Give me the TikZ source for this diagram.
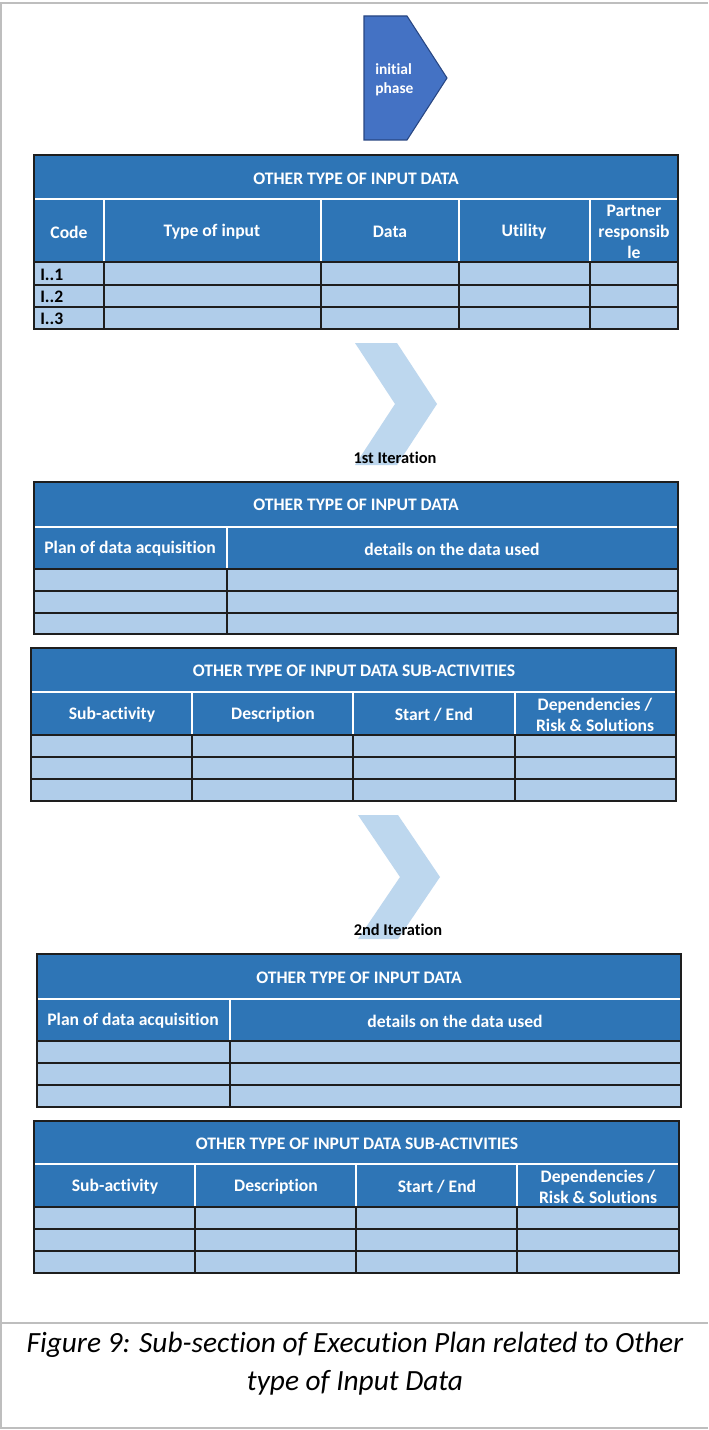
\documentclass[tikz,border=0pt]{standalone}
\usepackage{fontspec}
\setmainfont{Carlito}[Ligatures=NoCommon]
\definecolor{hdr}{RGB}{46,117,182}
\definecolor{lt}{RGB}{176,205,234}
\definecolor{chev}{RGB}{189,215,238}
\definecolor{pent}{RGB}{68,114,196}
\definecolor{pentb}{RGB}{40,70,130}
\definecolor{frm}{RGB}{190,190,190}
\definecolor{dk}{RGB}{30,30,30}
\begin{document}
\begin{tikzpicture}[x=0.75pt,y=-0.75pt,
  frameline/.style={draw=frm,line width=1.2pt},
  hfill/.style={fill=hdr},
  lfill/.style={fill=lt},
  wl/.style={draw=white,line width=1.1pt},
  dl/.style={draw=dk,line width=0.8pt},
  htext/.style={text=white,font=\bfseries\fontsize{13.2}{15.75}\selectfont,align=center,inner sep=0pt},
  dtext/.style={text=black,font=\bfseries\fontsize{13.2}{15.75}\selectfont,inner sep=0pt,anchor=west},
  itlabel/.style={text=black,font=\bfseries\fontsize{12.3}{14}\selectfont,inner sep=0pt},
  chevron/.style={fill=chev,draw=none}]
\useasboundingbox (0,0) rectangle (708,1430);
\fill[white] (0,0) rectangle (708,1430);
% frame
\draw[frameline] (0,3) -- (708,3);
\draw[frameline] (1,3) -- (1,1428) -- (708,1428);
\draw[frameline] (0,1323) -- (708,1323);

% initial phase pentagon
\draw[fill=pent,draw=pentb,line width=0.8pt] (364,16) -- (407,16) -- (447,78) -- (407,140) -- (364,140) -- cycle;
\node[text=white,font=\bfseries\fontsize{11.6}{14.2}\selectfont,align=left,anchor=west,inner sep=0pt] (phase) at (375,80) {initial\\phase};

% ---------- table 1
\fill[hfill] (34,155) rectangle (678,262);
\fill[lfill] (34,262) rectangle (678,329);
\draw[wl] (34,199) -- (678,199);
\foreach \x in {104,321,459,590} \draw[wl] (\x,199) -- (\x,262);
\foreach \x in {104,321,459,590} \draw[dl] (\x,262) -- (\x,329);
\foreach \y in {262,285,307} \draw[dl] (34,\y) -- (678,\y);
\draw[dl] (34,155) rectangle (678,329);
\node[htext] (t1title) at (356,179) {OTHER TYPE OF INPUT DATA};
\node[htext] (t1code) at (69,232) {Code};
\node[htext] (t1type) at (212,232) {Type of input};
\node[htext] (t1data) at (390,232) {Data};
\node[htext] (t1util) at (524,232) {Utility};
\node[htext] (t1part) at (634,232) {Partner\\responsib\\le};
\node[dtext] (t1r1) at (40,275) {I..1};
\node[dtext] (t1r2) at (40,297) {I..2};
\node[dtext] (t1r3) at (40,319) {I..3};

% chevron 1
\path[chevron] (355,343) -- (397,343) -- (437,404) -- (397,465) -- (355,465) -- (395,404) -- cycle;
\node[itlabel] (it1) at (395,458) {1st Iteration};

% ---------- table 2
\fill[hfill] (34,482) rectangle (678,569);
\fill[lfill] (34,569) rectangle (678,634);
\draw[wl] (34,527) -- (678,527);
\draw[wl] (227,527) -- (227,569);
\draw[dl] (227,569) -- (227,634);
\foreach \y in {569,591,613} \draw[dl] (34,\y) -- (678,\y);
\draw[dl] (34,482) rectangle (678,634);
\node[htext] (t2title) at (356,505) {OTHER TYPE OF INPUT DATA};
\node[htext] (t2plan) at (130,549) {Plan of data acquisition};
\node[htext] (t2det) at (452,549) {details on the data used};

% ---------- table 3
\fill[hfill] (31,648) rectangle (676,735);
\fill[lfill] (31,735) rectangle (676,801);
\draw[wl] (31,692) -- (676,692);
\foreach \x in {192,353,515} \draw[wl] (\x,692) -- (\x,735);
\foreach \x in {192,353,515} \draw[dl] (\x,735) -- (\x,801);
\foreach \y in {735,757,779} \draw[dl] (31,\y) -- (676,\y);
\draw[dl] (31,648) rectangle (676,801);
\node[htext] (t3title) at (354,671) {OTHER TYPE OF INPUT DATA SUB-ACTIVITIES};
\node[htext] (t3sub) at (112,715) {Sub-activity};
\node[htext] (t3desc) at (273,715) {Description};
\node[htext] (t3se) at (434,715) {Start / End};
\node[htext] (t3dep) at (595,715) {Dependencies /\\Risk \& Solutions};

% chevron 2
\path[chevron] (358,815) -- (398,815) -- (440,877) -- (398,939) -- (358,939) -- (400,877) -- cycle;
\node[itlabel] (it2) at (398,930) {2nd Iteration};

% ---------- table 4
\fill[hfill] (37,954) rectangle (681,1041);
\fill[lfill] (37,1041) rectangle (681,1107);
\draw[wl] (37,999) -- (681,999);
\draw[wl] (230,999) -- (230,1041);
\draw[dl] (230,1041) -- (230,1107);
\foreach \y in {1041,1063,1085} \draw[dl] (37,\y) -- (681,\y);
\draw[dl] (37,954) rectangle (681,1107);
\node[htext] (t4title) at (359,978) {OTHER TYPE OF INPUT DATA};
\node[htext] (t4plan) at (133,1021) {Plan of data acquisition};
\node[htext] (t4det) at (455,1021) {details on the data used};

% ---------- table 5
\fill[hfill] (34,1121) rectangle (679,1207);
\fill[lfill] (34,1207) rectangle (679,1273);
\draw[wl] (34,1164) -- (679,1164);
\foreach \x in {195,356,517} \draw[wl] (\x,1164) -- (\x,1207);
\foreach \x in {195,356,517} \draw[dl] (\x,1207) -- (\x,1273);
\foreach \y in {1207,1229,1251} \draw[dl] (34,\y) -- (679,\y);
\draw[dl] (34,1121) rectangle (679,1273);
\node[htext] (t5title) at (357,1144) {OTHER TYPE OF INPUT DATA SUB-ACTIVITIES};
\node[htext] (t5sub) at (115,1187) {Sub-activity};
\node[htext] (t5desc) at (276,1187) {Description};
\node[htext] (t5se) at (437,1187) {Start / End};
\node[htext] (t5dep) at (598,1187) {Dependencies /\\Risk \& Solutions};

% caption
\node[font=\itshape\fontsize{22}{28.5}\selectfont,align=center,inner sep=0pt] (caption) at (355,1364) {Figure 9: Sub-section of Execution Plan related to Other\\type of Input Data};
\end{tikzpicture}
\end{document}
